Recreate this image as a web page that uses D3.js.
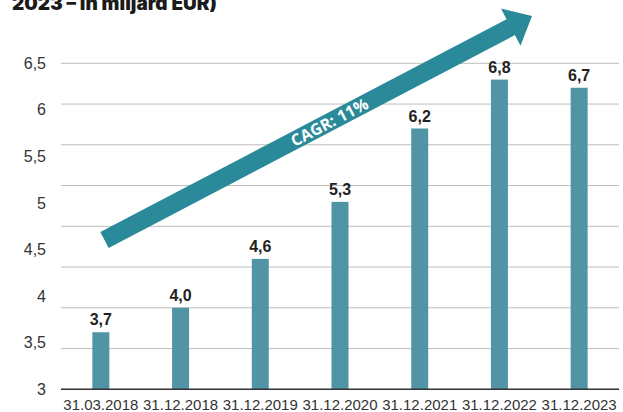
<!DOCTYPE html>
<html>
<head>
<meta charset="utf-8">
<script src="https://cdn.jsdelivr.net/npm/d3@7"></script>
<style>
  body { margin: 0; background: #fff; }
  svg { display: block; }
</style>
</head>
<body>
<div id="chart"></div>
<script>
// data
const dates = ["31.03.2018", "31.12.2018", "31.12.2019", "31.12.2020", "31.12.2021", "31.12.2022", "31.12.2023"]
const values = [3.7, 4.0, 4.6, 5.3, 6.2, 6.8, 6.7]
const tickLabels = [3, 3.5, 4, 4.5, 5, 5.5, 6, 6.5]
const gridValues = [3, 3.5, 4, 4.5, 5, 5.5, 6, 6.5, 7]
const title = "2023 \u2013 in miljard EUR)"
const cagrLabel = "CAGR: 11%"

const width = 623
const height = 412
const plotLeft = 61, plotRight = 619, plotBottom = 389.3, plotTop = 63.3

const svg = d3.select("#chart")
  .append("svg")
    .attr("width", width)
    .attr("height", height)

const x = d3.scaleBand()
  .domain(dates)
  .range([plotLeft, plotRight])

const y = d3.scaleLinear()
  .domain([3, 7])
  .range([plotBottom, plotTop])

// the tick labels in the original are spread over the whole grid height
const yLabel = d3.scaleLinear()
  .domain([3, 6.5])
  .range([plotBottom, plotTop])

const fmt = v => d3.format(".1f")(v).replace(".", ",")

// title (cut off at the top like the source)
svg.append("text")
  .attr("x", 12)
  .attr("y", 10)
  .attr("font-family", "Inter, 'DejaVu Sans', sans-serif")
  .attr("font-weight", 900)
  .attr("font-size", 19)
  .attr("fill", "#1a1a1a")
  .text(title)

// gridlines
svg.append("g")
  .selectAll("line")
  .data(gridValues.filter(d => d !== 3))
  .join("line")
    .attr("x1", plotLeft)
    .attr("x2", plotRight)
    .attr("y1", d => y(d))
    .attr("y2", d => y(d))
    .attr("stroke", "#bdbdbd")
    .attr("stroke-width", 1)

// y tick labels
svg.append("g")
  .selectAll("text")
  .data(tickLabels)
  .join("text")
    .attr("x", 46)
    .attr("y", d => yLabel(d))
    .attr("dy", "0.35em")
    .attr("text-anchor", "end")
    .attr("font-family", "'Liberation Sans', Arial, sans-serif")
    .attr("font-size", 16)
    .attr("fill", "#333")
    .text(d => String(d).replace(".", ","))

// bars
const barW = 17
svg.append("g")
  .selectAll("rect")
  .data(values)
  .join("rect")
    .attr("x", (d, i) => x(dates[i]) + x.bandwidth() / 2 - barW / 2)
    .attr("y", d => y(d))
    .attr("width", barW)
    .attr("height", d => y(3) - y(d))
    .attr("fill", "#5094a6")

// value labels
svg.append("g")
  .selectAll("text")
  .data(values)
  .join("text")
    .attr("x", (d, i) => x(dates[i]) + x.bandwidth() / 2)
    .attr("y", d => y(d) - 7)
    .attr("text-anchor", "middle")
    .attr("font-family", "'Liberation Sans', Arial, sans-serif")
    .attr("font-weight", "bold")
    .attr("font-size", 16)
    .attr("fill", "#222")
    .text(d => fmt(d))

// baseline
svg.append("line")
  .attr("x1", plotLeft)
  .attr("x2", plotRight)
  .attr("y1", y(3))
  .attr("y2", y(3))
  .attr("stroke", "#333")
  .attr("stroke-width", 1.5)

// x labels
svg.append("g")
  .selectAll("text")
  .data(dates)
  .join("text")
    .attr("x", d => x(d) + x.bandwidth() / 2)
    .attr("y", 410)
    .attr("text-anchor", "middle")
    .attr("font-family", "'Liberation Sans', Arial, sans-serif")
    .attr("font-size", 15)
    .attr("fill", "#333")
    .text(d => d)

// CAGR arrow
const tail = [104.5, 240], tip = [532, 16]
const ang = Math.atan2(tip[1] - tail[1], tip[0] - tail[0])
const len = Math.hypot(tip[0] - tail[0], tip[1] - tail[1])
const shaftW = 18, headW = 42, headL = 24
const arrow = svg.append("g")
  .attr("transform", `translate(${tail[0]},${tail[1]}) rotate(${ang * 180 / Math.PI})`)
arrow.append("path")
  .attr("d", d3.line()([
    [0, -shaftW / 2], [len - headL, -shaftW / 2], [len - headL, -headW / 2], [len, 0],
    [len - headL, headW / 2], [len - headL, shaftW / 2], [0, shaftW / 2]
  ]) + "Z")
  .attr("fill", "#2a8a99")
arrow.append("text")
  .attr("x", 254)
  .attr("y", 0)
  .attr("dy", "0.36em")
  .attr("text-anchor", "middle")
  .attr("font-family", "'Open Sans', 'Liberation Sans', sans-serif")
  .attr("font-weight", 700)
  .attr("font-size", 16)
  .attr("fill", "#fff")
  .text(cagrLabel)
</script>
</body>
</html>
